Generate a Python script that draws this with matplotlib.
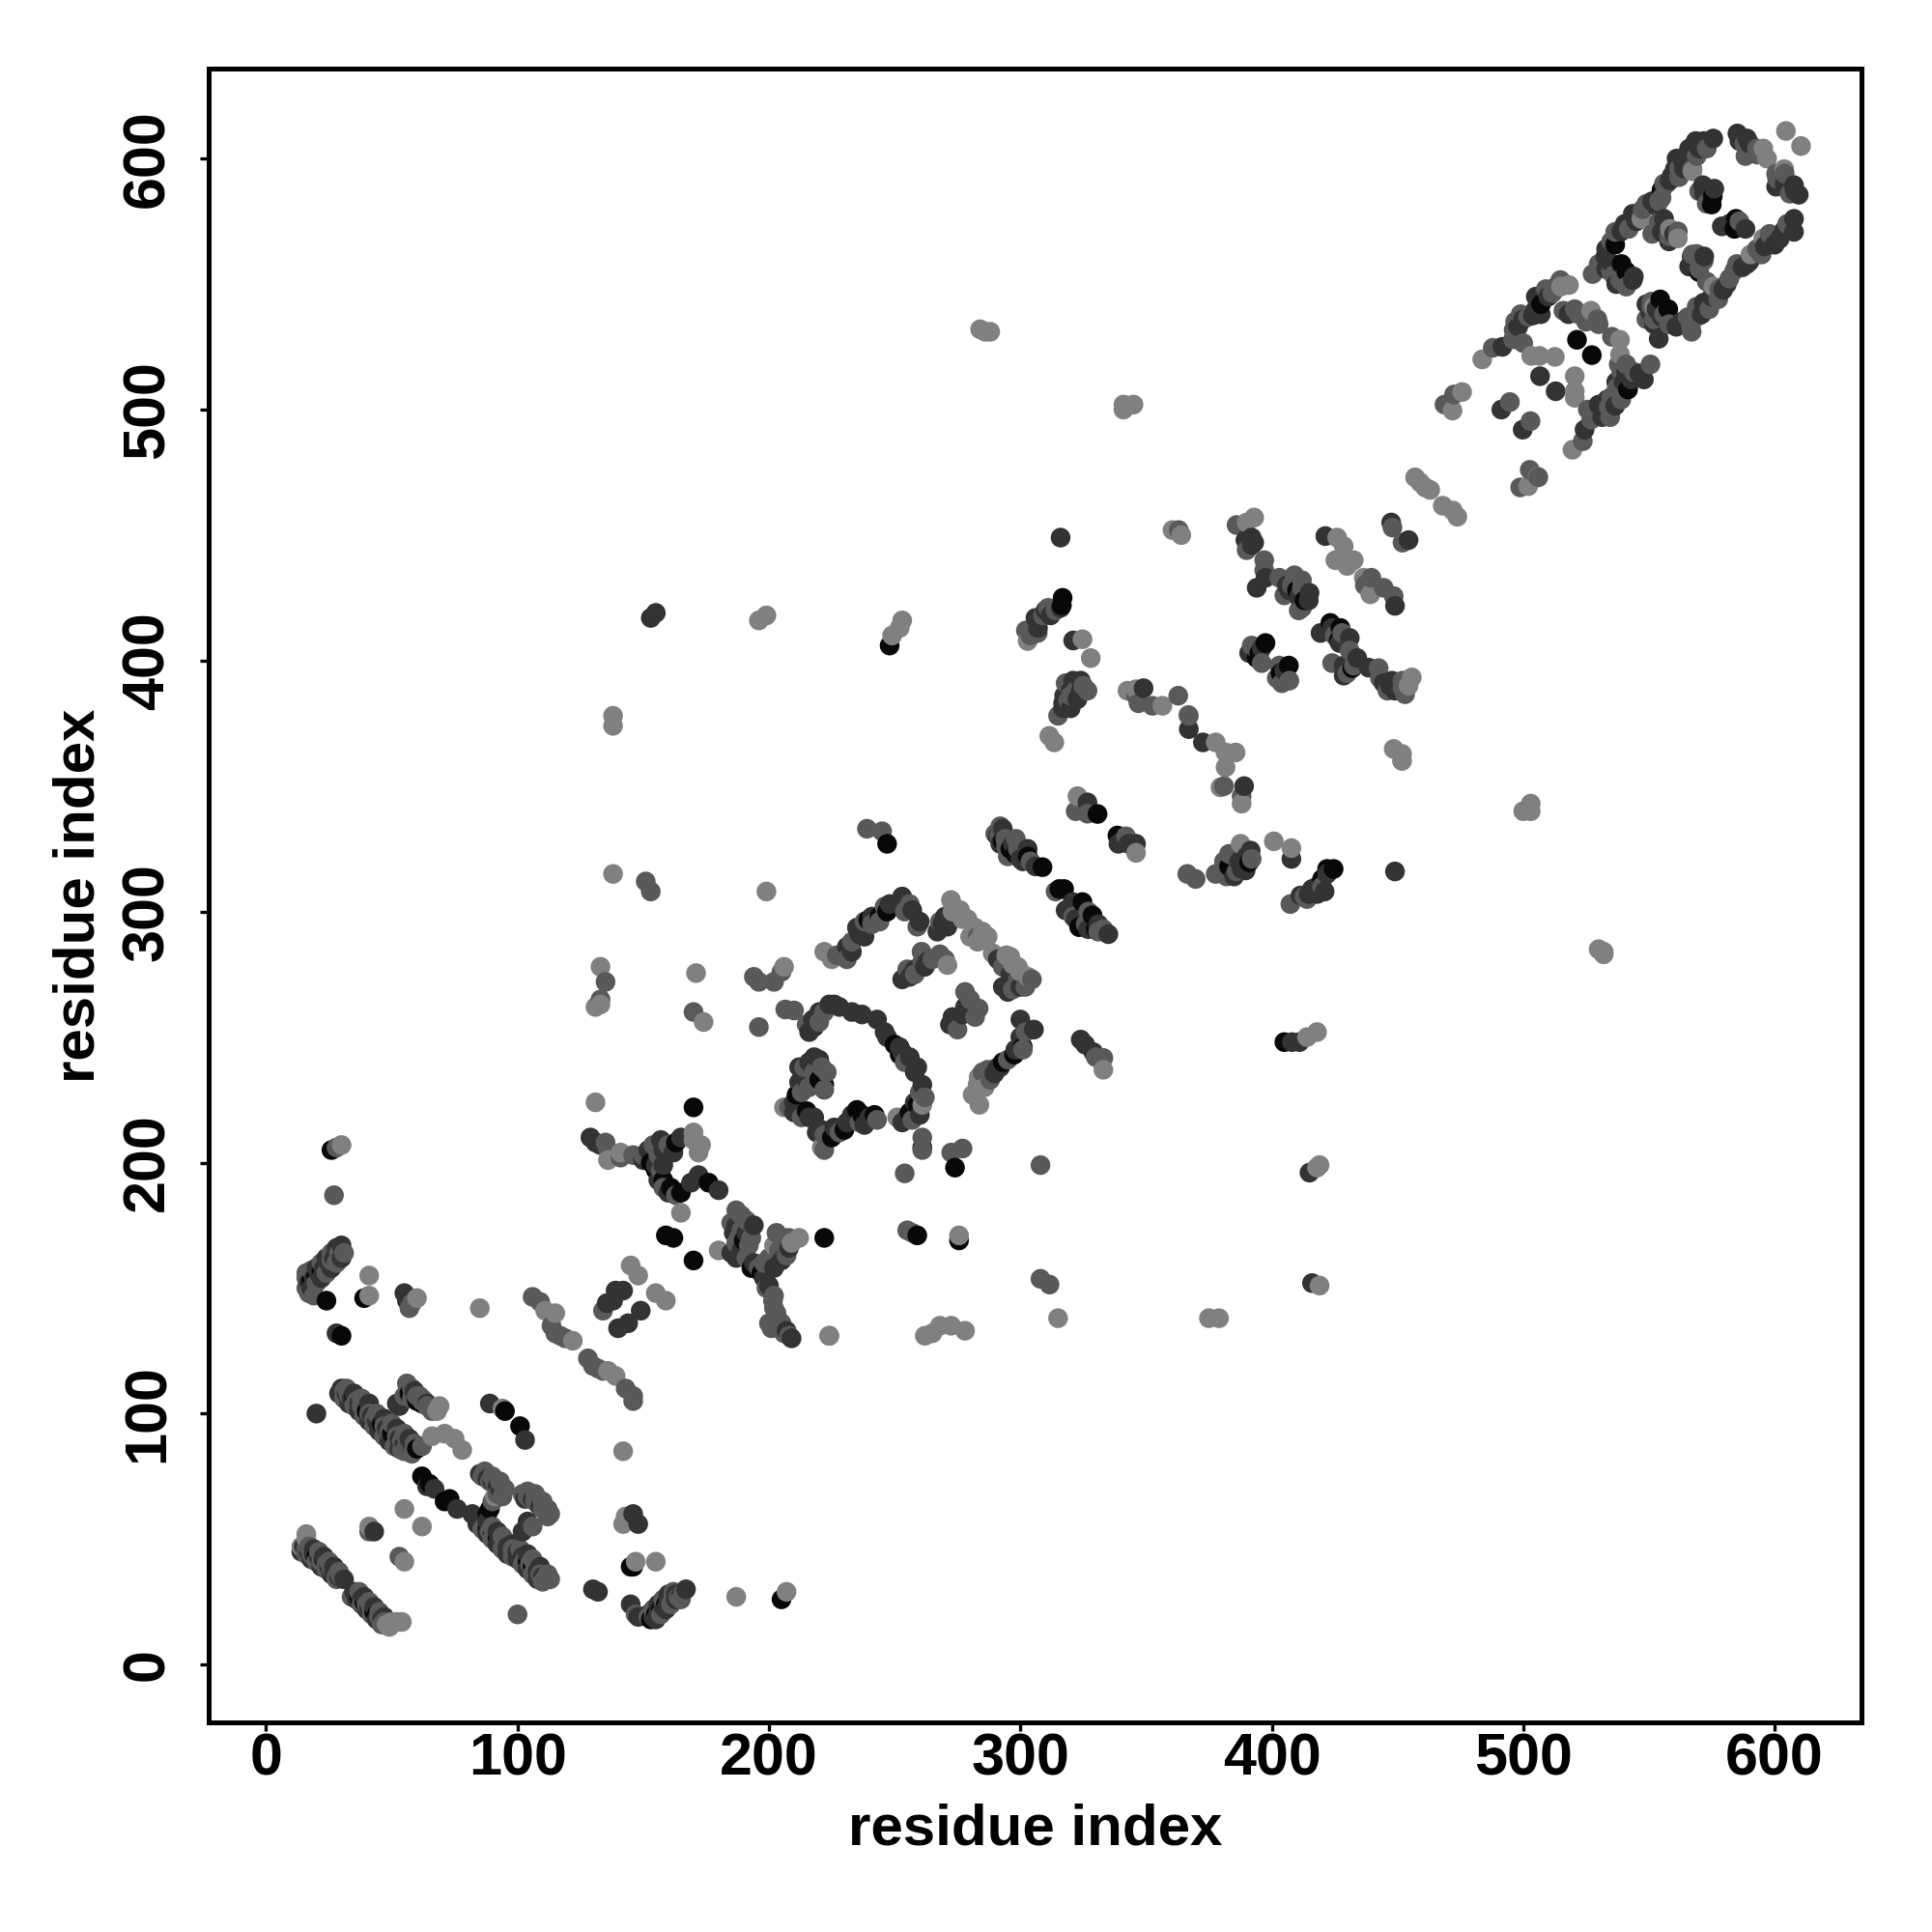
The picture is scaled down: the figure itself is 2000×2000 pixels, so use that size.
import matplotlib
matplotlib.use("Agg")
import matplotlib.pyplot as plt

plt.rcParams['font.family'] = ['Liberation Sans', 'DejaVu Sans']

tick_values = [0, 100, 200, 300, 400, 500, 600]
axis_title = "residue index"

black_contacts = [
 (23,42),(37,27),(44,20),(43,21),(20,43),(39,25),(18,153),(20,155),(22,157),(24,145),(26,205),(39,146),
 (60,86),(62,75),(65,72),(71,65),(73,66),(89,62),(88,60),(95,101),(101,95),(146,39),(153,18),(155,20),(157,22),
 (159,24),(92,50),(88,54),(104,41),(106,39),(35,107),(40,101),(46,96),(50,92),(57,108),(60,105),(62,104),(170,222),
 (222,170),(162,170),(159,171),(170,161),(205,26),(158,193),(161,190),(165,188),(176,192),(190,169),(193,158),
 (197,156),(247,327),(293,328),(296,325),(298,323),(303,322),(308.8,317.7),(315.5,309),(317.4,309),(324.7,303.8),
 (328.7,298.5),(330,293),(323.4,293.8),(330.7,338.9),(338.6,330.3),(316.8,425),(316.5,422),(422,317),(424.6,317),
 (420,313),(391,319.7),(383,318),(397.5,407),(395,403),(394,401),(406.8,398),(403.5,395),(423.3,415),(426.6,408),
 (427.3,413),(432,397),(413,424),(410,428),(521.4,527.8),(527.3,521.7),(539.1,558),(541,555),(554.5,543.9),
 (557.7,540),(575.4,585),(575,581.7),(584.6,576),(584,572),(555,587.5),(507.1,542),(541.7,508),(536.6,565.7),
 (569.9,554.8),(230,213),(225,210),(237,219),(242,219),(235,221),(211,227),(215,220.5),(222,231),(220,233),(259,223),
 (256,220),(293,240),(297.5,243),(301,246),(239.5,296.7),(244,298),(247,300),(250,247),(252,243),(261,206),
 (274,198),(259,171),(275.6,169),(145,39),(163,208),(155,197),(153,200),(30,131),(248,406),(405,248),
]
dark_contacts = [
 (15,47),(17,45),(19,44),(21,43),(25,39),(27,37),(29,35),(31,34),(35,29),(36,28),(38,26),(41,23),(46,18),
 (17,152),(19,154),(21,156),(23,158),(25,160),(27,162),(28,166),(30,167),(86,56),(90,52),(94,49),(96,47),(100,45),
 (102,43),(108,37),(110,35),(82,60),(84,58),(85,76),(88,74),(90,73),(92,71),(93,70),(64,71),(67,70),(76,62),
 (43,53),(103,66),(106,66),(109,63),(104,57),(102,53),(30,110),(32,108),(34,106),(37,104),(42,99),(44,97),(48,94),
 (53,90),(55,88),(58,85),(52,104),(53,103),(59,109),(64,104),(89,104),(103,89.5),(146,60),(148,56),(20,100),(167,30),
 (154,19),(156,21),(158,23),(160,25),(161,26),(163,28),(165,28),(145,24),(148,19),(130,30),(132,29),(28,132),(55,148),
 (56,145),(129,210),(131,208),(133,207),(150,201),(155,199),(158,205),(160,206),(165,210),(172,195),(169,192),
 (180,189),(194,175),(186,172),(185,164),(187,162),(200,151),(209,130),(207,133),(208,166),(205,161),(202,158),
 (139,149),(142,149),(135.5,144),(149,141),(144,136),(140,134),(138,145),(218,242),(214,234),(212,238),(210,224),
 (220,260),(217.5,257),(218,254),(224,263),(228,262),(233,260),(237,259),(243,257),(246,252),(252,246),(256,242),
 (259,238),(261,231),(258,224),(255,218),(221,213),(218,218),(238,215),(233,219),(253,244),(233,284),(235,293.6),
 (238,290),(253,306),(257,300.6),(260,296),(271,294),(269,295),(272,299),(255,275.5),(258,277),(262,278),(278,262),
 (275,258),(274,255),(277,259),(293,270),(296.8,271.6),(300,270),(300,257),(305.4,253),(289.7,235.5),(291,238),
 (325.8,247),(329,244),(324,249),(339,327),(343,327),(291,330),(293,333),(302.9,325),(300,321),(318,300.5),(320.8,303.8),
 (335,291),(316,449),(321,408),(310,420),(307,413),(306,417),(317.4,386),(324,392),(322.7,384.6),(320,388),
 (317,381),(389.5,448),(392,446),(394,429),(397.5,433),(407,428),(414.7,424),(421.3,449.6),(447.5,455),(454.4,448),
 (449,421.8),(419.4,411),(428.6,398),(428.6,394),(438.5,397.2),(444.5,391),(447.8,392),(449,316),(391.6,324.3),
 (389.6,316.4),(418,307),(414.7,307),(411.4,306.4),(407.8,321),(367,372.7),(372.6,367.4),(349,389),(389,350),
 (326.7,343.5),(346,327),(551.3,583),(558.3,591.3),(560.3,595.8),(563.5,599),(565.4,602),(568.6,607),(571.8,607),
 (575.6,608),(585.2,610),(589,608),(607.7,589.4),(609.6,585.6),(607.7,576),(603.8,571.5),(607.7,570.8),(600,565.7),
 (600.6,588.8),(587.2,556.7),(579.5,547.7),(571.8,542.6),(560.9,533),(553.9,528.2),(543.6,578),(540.4,574),
 (532.7,561),(535.3,558),(543.6,551.6),(550.6,538.7),(507,538),(500,536),(503.9,537.5),(491.7,525),(506.7,513.3),
 (512.9,507.3),(491.3,500),(499.8,492),(524.4,492),(543,512),(546.2,514.4),(533.4,504),(536.6,501.5),(531.4,497),
 (571.5,589.4),(567.3,558),(567,561),(588.4,572),(597,566),(590,559),(558,567),(555.1,570.8),
 (14,45),(18,42),(22,39),(26,36),(19,46),(23,43),(27,39),(36,26),(40,22),(44,18),(39,27),(43,23),(47,19),
 (84,56),(88,52),(92,48),(96,44),(100,42),(104,38),(108,34),(88,57),(92,53),(98,48),(104,44),(109,39),
 (29,108),(33,104),(37,101),(41,97),(45,93),(49,89),(53,86),(35,108),(41,104),(47,98),(52,94),(57,90),
 (155,18),(159,22),(163,26),(152,20),(156,24),(160,28),(18,150),(22,154),(26,158),(30,162),(20,158),(24,162),
 (156,193),(160,188),(152,205),(157,209),(162,204),(158,199),(187,175),(191,172),(189,165),(194,160),(198,154),
 (216,252),(219,258),(226,263),(247,250),(258,236),(260,219),(253,216),(216,240),(212,232),(210,220),(216,218),
 (220,241),(233,218),(240,218),(231,216),(226,214),(219,212),(231,286),(236,291),(241,298),(248,303),(267,292),
 (270,298),(253,273),(256,274),(263,280),(291,281),(296,275),(295,268),(273,258),(272,255),(298,245),(292,238),
 (300,250),(292,327),(297,327),(301,320),(306,318),(319,301),(322,297),(327,293),(331,295),(316,421),(312,418),
 (307,416),(320,381),(317,383),(321,392),(324,388),(388,317),(387,320),(390,322),(385,314),(422,315),(418,310),
 (416,309),(421,308),(391,403),(396,405),(405,396),(392,449),(393,447),(406,430),(411,425),(411,426),(415,427),
 (424,413),(427,407),(431,409),(434,401),(447,390),(449,388),(553,581),(545,575),(539,571),(533,564),(559,593),
 (564,596),(570,604),(566,604),(561,600),(586,607),(590,606),(604,590),(608,587),(602,568),(596,565),(589,558),
 (581,550),(575,545),(571,538),(563,535),(572,586),(576,588),(582,574),(579,573),(556,576),(560,570),(566,557),
 (572,561),(533,556),(537,550),(544,553),(549,542),(553,540),(555,537),(552,534),(510,545),(505,540),(498,533),
 (505,545),(518,538),(541,515),(548,512),(540,511),(532,501),(530,502),(537,511),
 (408,248),(411,248),(153,417),(155,419),(416,152),(415,196),
]
mid_contacts = [
 (16,46),(18,44),(22,41),(24,40),(26,38),(28,35),(30,35),(40,24),(42,22),(45,19),(47,17),(16,154),(26,161),(29,164),
 (31,164),(17,148),(19,147),(41,53),(53,43),(87,55),(89,53),(91,51),(95,48),(98,46),(103,42),(105,40),(107,38),(109,36),
 (111,34),(86,75),(87,75),(89,73),(91,72),(92,68),(91,66),(90,65),(102,68),(104,67),(105,66),(107,65),(108,64),(110,62),
 (112,59),(106,55),(31,109),(33,107),(36,105),(38,103),(39,102),(41,100),(43,98),(47,95),(49,93),(52,91),(54,89),(56,87),
 (55,107),(58,106),(61,107),(62,106),(63,105),(100,20),(147,20),(152,19),(162,27),(164,27),(166,29),(28,206),(27,187),
 (57,142),(58,144),(106,146.5),(109,144.5),(113.5,135),(115,132),(117,131),(119,130),(128,122),(130,119),(132,118),
 (134,117),(143,110),(146,107),(146,105),(135,208),(136,205),(141,202),(146,203),(156,203),(187,181),(189,179),(191,177),
 (188,170),(192,167),(201.6,145),(203,140),(205,136),(200,136),(203,172),(206,170),(208,170),(134,141),(222,205),
 (221,238),(216,230),(213,228),(223,236),(261,210),(261,205),(254,195.7),(277,205.6),(272.5,204),(255,173),(257,172),
 (308,199),(308,153.7),(311.6,151.4),(224,131),(196,254),(194,274),(196,272),(202,272),(205,276),(206.5,261),(210,260.6),
 (135,272),(133,265),(170,260),(151,312),(153,308),(239,333),(245,332),(227,282.6),(231,281),(246,302),(241,295),
 (259,294),(260.7,284),(265,281),(268,283),(283,290),(283.4,261.4),(280,265),(304.6,273),(301,245),(285,236),
 (333,241.7),(330,242),(292,334),(291.6,330),(298.2,329),(294.3,326),(326.7,339),(322,340),(342,330),(302.2,412),
 (306.9,411),(311,421),(315,378),(318,391),(326.7,388),(363,452),(386,454),(397,440),(403,433),(412,432),(410.7,420),
 (439.6,433),(444.5,429),(448.5,425.7),(432.6,398),(437,430),(442.5,397),(453,386.6),(424,399),(407,392),(404,391),
 (394,404.5),(383,323),(377.7,315),(366.4,315),(369.7,313),(407.4,303),(388,346),(381,350),(367,378),(362.8,386),
 (352.5,382),(346,386),(347,383),(551.3,570),(547.5,579.8),(536.6,570.8),(555,584.3),(562,592.6),(567.3,595.8),
 (593,601.6),(588.4,601),(604,594),(600.6,594),(594.8,561.8),(584,555.4),(582,552.2),(577.6,544),(569.9,537.4),
 (566.7,533.6),(565.4,536.8),(553.9,574.7),(561.5,571),(567.3,561.8),(571.8,559.3),(527.6,554),(536,553.5),(538.5,551.6),
 (551,543),(552,536),(511.6,546.4),(514.8,551.6),(496.8,535),(496.2,531.7),(500,526.5),(487.9,524.6),(520.5,540),
 (516,539.4),(529.5,536),(535.3,529),(538,518),(550.6,518),(541,518),(537.2,508.6),(525.7,500),(534.6,497),(494.7,503),
 (502.9,495.4),(523.7,487.4),(506,473),(502.6,476),(498.8,469),(472.5,506),(468.7,502),
 (16,44),(20,41),(24,38),(28,34),(17,47),(21,45),(25,41),(29,37),(34,27),(38,24),(42,20),(46,16),(37,29),(41,25),(45,21),
 (86,54),(90,50),(94,46),(98,43),(102,40),(106,36),(110,33),(90,55),(94,51),(101,46),(106,42),(112,36),(113,34),
 (87,77),(90,75),(93,73),(95,70),(94,67),(104,69),(107,68),(110,65),(112,62),(113,60),
 (31,106),(35,103),(39,99),(43,95),(47,91),(51,87),(55,85),(32,110),(38,106),(44,100),(50,96),(55,92),(59,88),
 (56,112),(58,110),(60,107),(62,105),(64,103),(66,101),(54,85.5),(58,84),(62,87),
 (157,20),(161,24),(165,26),(154,22),(158,26),(162,29),(16,150),(20,152),(24,156),(28,160),(16,156),(18,157),(22,160),(26,164),
 (158,190),(163,187),(150,203),(154,207),(160,207),(157,197),(185,176),(189,173),(193,170),(187,168),(191,162),(196,158),
 (199,150),(202,147),(202,142),(204,137),(206,132),(208,131),(201,134),(204,134),(198,160),(200,162),(204,165),(207,163),
 (215,255),(222,260),(220,256),(254,240),(260,228),(257,217),(262,226),(214,238),(208,222),(213,218),(218,236),(222,229),
 (236,216),(243,217),(228,212),(222,211),(233,288),(238,296),(244,296),(254,300),(256,303),(268,296),
 (258,275),(261,280),(270,281),(255,277),(293,278),(299,273),(302,270),(297,269),(275,253),(278,268),(282,258),
 (295,241),(288,233),(302,252),(287,237),(290,331),(294,329),(295,322),(299,325),(304,320),(314,308),(321,298),(326,295),
 (333,293),(331,292),(327,300),(314,420),(309,418),(304,410),(319,384),(322,388),(325,390),(320,386),
 (386,316),(385,322),(392,321),(382,314),(381,320),(420,310),(414,305),(413,306),(392,406),(396,399),(403,398),(402,393),
 (390,444),(397,436),(405,426),(408,430),(412,421),(409,434),(412,429),(425,410),(428,411),(431,404),(430,395),(446,388),
 (452,392),(452,389),(443,393),(549,582),(542,572),(535,567),(557,590),(562,596),(573,604),(569,601),(556,590),(554,583),
 (588,606),(593,604),(601,592),(606,586),(605,574),(598,570),(593,564),(585,558),(578,548),(574,540),(569,541),(558,534),
 (567,531),(573,582),(586,575),(570,587),(558,569),(554,572),(570,556),(569,562),(573,551),(530,558),(535,555),(540,553),
 (541,549),(551,541),(556,538),(549,536),(513,549),(509,548),(502,537),(499,538),(496,528),(522,538),(525,535),(530,534),
 (544,515),(539,515),(535,505),(528,498),(534,501),(539,504),(527,496),
 (448,453),(452,447),
]
light_contacts = [
 (16,52),(16,50),(14,47),(48,16),(50,17),(52,17),(54,17),(55,62),(62,55),(55,41),(41,55),(94,102),(142,85),(143,59),
 (142,56),(147,41),(155,41),(187,27),(207,29),(30,207),(41,155),(41,147),(60,146),(85,142),(115,140),(122,129),
 (111,141),(139,115),(136,117),(145,159),(148,155),(155,148),(159,145),(136,201),(141,204),(170,212),(172,204),(165,180),
 (170,209),(173,207),(180,165),(212,170),(224,131),(138,315),(199,308),(133,278),(131,262),(133,263),(171,275.5),
 (174,256),(206,278),(131,224),(206,222),(221,206),(251,218),(261,223),(275.6,171),(315,138),(262,131),(265,132),(268,135),
 (272.5,135),(278,133),(222,284),(225,281),(272.4,304.6),(276,300.6),(279,297),(282,293.6),(283,288),(271,278.7),(289,283.4),
 (294.4,282.6),(297,279),(300,276),(303,274),(283.4,234),(285.8,230),(281,227),(283.7,223),(333,237),(346,323.4),(322.7,346),
 (284,532),(286,531),(288,531),(341,500),(345,502),(341,502),(196,416),(199,418),(249,410),(252,413),
 (253,416),(138,378),(138,374),(500,340),(503,343),(503,340),(530,285),(532,284),(532,283),(414,250),(418,252),
 (418,198),(419,199),(419,151),(375,138),(379,138),(360.5,452),(364,450),(393,457),(390,455),
 (426,449),(428.6,445.6),(425.3,440),(432.6,440),(430,437.7),(436.6,433),(439.2,426.4),(455.7,393.3),(454.4,390),
 (448.5,364.8),(451.8,362.8),(451.8,360),(324.7,408.5),(328,401),(313.5,367.4),(311.5,370),(302.9,407.8),
 (400.8,328),(407.8,325.3),(387.6,327),(388,343),(379.6,349.5),(381.6,357.5),(385.6,363.4),(381.6,363.4),(377.7,367.4),
 (366.8,378.4),(356.5,382),(342.6,388),(346,388.6),(604.5,611),(610.5,605),(595.5,604),(603.8,595.8),(595.5,568.2),
 (590.4,561.8),(567.3,595),(558.3,572),(561.5,568.2),(547,576),(518.2,549.6),(515,549),(483.7,520),(503.2,521.4),
 (506.5,521.4),(512.6,521),(527,539.4),(538.5,527.8),(538.5,522),(520.5,513.3),(520.5,507.3),(520.5,504.7),(519.6,484),
 (475.7,507),(471.9,499.6),(505.8,473.3),(502,469.5),(468,461.7),(472,459.8),(473.8,457.3),(457,473),(459,471),(461,469),
 (463,468),(575.6,549),(552,541),
 (49,15),(68,101),(69,103),(66,91),(71,92),(75,90),(78,85.5),(91,67),(202,167),(209,168),(280,290),(285,292),(287,290),
 (273,300),(277,297),(283,231),(597,600),(296,282),(299,278),
]

shade_levels = [0.03, 0.20, 0.35, 0.50]
groups = [black_contacts, dark_contacts, mid_contacts, light_contacts]

merged = []
for shade, group in zip(shade_levels, groups):
    for px, py in group:
        merged.append((px, py, shade))
merged.sort(key=lambda item: item[0])
xs = [m[0] for m in merged]
ys = [m[1] for m in merged]
cs = [str(m[2]) for m in merged]

fig = plt.figure(figsize=(10, 10), dpi=200)
ax = fig.add_axes([0.1078, 0.1084, 0.8559, 0.8559])
ax.scatter(xs, ys, s=54, c=cs, linewidths=0, zorder=3)
ax.set_xlim(-23, 634.7)
ax.set_ylim(-23.1, 635.7)
ax.set_xticks(tick_values)
ax.set_yticks(tick_values)
ax.tick_params(axis='x', length=3.4, width=1.2, labelsize=22, pad=0.4)
ax.tick_params(axis='y', length=3.4, width=1.2, labelsize=22, pad=8.6)
for lab in ax.get_xticklabels():
    lab.set_fontweight('bold')
for lab in ax.get_yticklabels():
    lab.set_fontweight('bold')
    lab.set_rotation(90)
    lab.set_va('center')
for sp in ax.spines.values():
    sp.set_linewidth(1.8)
ax.set_xlabel(axis_title, fontsize=21.6, fontweight='bold')
ax.set_ylabel(axis_title, fontsize=21.6, fontweight='bold')
ax.xaxis.set_label_coords(0.5, -0.0485)
ax.yaxis.set_label_coords(-0.0617, 0.5)
fig.savefig('out.png', dpi=200, facecolor='white')
